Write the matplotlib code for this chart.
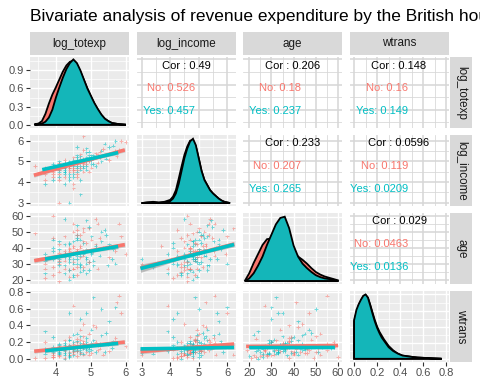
import numpy as np
import matplotlib.pyplot as plt

plt.rcParams['font.family'] = ['Liberation Sans', 'DejaVu Sans']

title = "Bivariate analysis of revenue expenditure by the British households"
variables = ['log_totexp', 'log_income', 'age', 'wtrans']
groups = ['No', 'Yes']

# household records (totexp and income rounded to tens)
totexp = [50, 60, 70, 80, 90, 100, 110, 120, 60, 70,
          80, 90, 100, 50, 130, 140, 40, 60, 70, 80,
          90, 100, 110, 150, 80, 70, 60, 90, 120, 100,
          50, 40, 110, 130, 80, 90, 70, 60, 100, 160,
          200, 180, 250, 30, 40, 60, 80, 110, 90, 70,
          300, 350, 400, 220, 300, 120, 100, 130, 170, 140,
          50, 70, 90, 60, 80, 100, 120, 140, 110, 90,
          80, 70, 60, 50, 100, 150, 130, 120, 110, 90,
          80, 70, 60, 100, 90, 80, 70, 110, 120, 100,
          190, 160, 210, 270, 230, 180, 170, 140, 150, 130,
          90, 80, 160, 310, 330, 200, 110, 120, 40, 40,
          50, 50, 60, 70, 80, 90, 100, 110, 120, 130,
          60, 70, 80, 90, 100, 50, 60, 40, 140, 150,
          250, 280, 190, 240, 170, 110, 100, 90, 130, 120]
income = [90, 100, 120, 110, 130, 140, 150, 120, 80, 90,
          130, 100, 160, 70, 180, 150, 100, 110, 140, 90,
          120, 110, 170, 200, 100, 80, 130, 150, 140, 120,
          110, 60, 100, 130, 140, 90, 110, 90, 180, 170,
          250, 210, 300, 120, 50, 20, 20, 30, 40, 50,
          250, 400, 380, 350, 400, 500, 300, 280, 220, 200,
          100, 90, 110, 100, 120, 130, 110, 160, 140, 160,
          110, 100, 120, 80, 100, 130, 150, 170, 120, 140,
          80, 130, 70, 90, 100, 120, 110, 110, 160, 150,
          180, 200, 270, 220, 170, 140, 190, 240, 110, 100,
          50, 70, 130, 190, 260, 150, 60, 90, 80, 90,
          120, 60, 140, 160, 150, 80, 70, 190, 130, 120,
          60, 70, 60, 70, 80, 130, 150, 110, 90, 160,
          160, 320, 240, 210, 120, 210, 200, 180, 230, 260]
age = [28, 31, 35, 40, 33, 38, 45, 36, 25, 29,
       42, 27, 48, 23, 39, 52, 32, 37, 34, 26,
       44, 30, 41, 47, 22, 24, 33, 36, 50, 35,
       38, 21, 29, 43, 31, 40, 27, 35, 46, 38,
       44, 55, 42, 49, 24, 30, 33, 28, 41, 36,
       38, 47, 36, 51, 30, 52, 45, 33, 58, 26,
       60, 58, 55, 19, 20, 23, 26, 31, 34, 37,
       39, 42, 44, 46, 48, 36, 30, 28, 25, 22,
       34, 32, 29, 33, 31, 38, 36, 40, 43, 39,
       35, 29, 40, 33, 48, 27, 42, 53, 45, 24,
       27, 35, 32, 41, 55, 50, 30, 44, 30, 36,
       33, 40, 42, 47, 26, 23, 51, 35, 38, 34,
       32, 38, 43, 30, 28, 45, 39, 27, 31, 37,
       34, 39, 46, 29, 41, 48, 54, 50, 57, 35]
wtrans = [.05, .10, .12, .08, .15, .20, .11, .18, .03, .07,
          .22, .09, .14, .02, .25, .30, .06, .13, .17, .05,
          .10, .21, .16, .35, .04, .00, .08, .12, .27, .09,
          .14, .01, .19, .08, .23, .06, .11, .16, .13, .40,
          .28, .10, .45, .01, .33, .04, .07, .06, .12, .09,
          .25, .55, .15, .08, .62, .05, .30, .55, .20, .12,
          .02, .14, .18, .10, .03, .24, .06, .09, .35, .04,
          .26, .05, .18, .07, .16, .11, .20, .13, .08, .29,
          .12, .22, .06, .10, .14, .17, .19, .07, .12, .09,
          .18, .22, .05, .13, .31, .16, .38, .14, .07, .11,
          .64, .55, .74, .68, .76, .60, .48, .42, .20, .12,
          .08, .26, .15, .10, .02, .09, .13, .27, .21, .17,
          .11, .01, .16, .20, .03, .12, .07, .10, .05, .19,
          .09, .21, .12, .17, .08, .23, .15, .08, .13, .19]
children = ("NYYNYNYYNY" "YNYNYNYNYN" "YYNYNYYNNY" "YNYNYNNYYN"
            "YNYNYNYYNY" "NNNYYNYYNY" "NYNNYNYYNY" "NYYNNYYNYY"
            "YNYYNNYNYN" "YYNYYNNYNY" "NYYNNYYNNY" "YYNNYYNYNY"
            "NNYYNYYNNY" "NYNYYNYNYN")

# density curves
dens_x = {
    'log_totexp': [3.4, 3.5, 3.6, 3.7, 3.8, 3.9, 4.0, 4.1, 4.2, 4.3, 4.4, 4.5, 4.6, 4.7,
                   4.8, 4.9, 5.0, 5.1, 5.2, 5.3, 5.4, 5.5, 5.6, 5.7, 5.8, 5.9, 6.0],
    'log_income': [3.0, 3.2, 3.4, 3.6, 3.8, 4.0, 4.1, 4.2, 4.3, 4.4, 4.5, 4.6, 4.7, 4.8,
                   4.9, 5.0, 5.1, 5.2, 5.3, 5.4, 5.5, 5.6, 5.7, 5.8, 5.9, 6.0, 6.1],
    'age': [18, 20, 22, 24, 26, 28, 30, 32, 34, 36, 38, 40, 42, 44, 46, 48, 50, 52,
            54, 56, 58, 60],
    'wtrans': [0.0, 0.02, 0.04, 0.06, 0.08, 0.10, 0.12, 0.14, 0.16, 0.18, 0.20, 0.22, 0.24,
               0.26, 0.28, 0.30, 0.34, 0.38, 0.42, 0.46, 0.50, 0.55, 0.60, 0.65, 0.70, 0.76],
}
dens_no = {
    'log_totexp': [0.01, 0.02, 0.06, 0.18, 0.35, 0.50, 0.62, 0.75, 0.88, 0.98, 1.04, 1.06, 1.00,
                   0.88, 0.74, 0.60, 0.47, 0.35, 0.25, 0.16, 0.10, 0.06, 0.03, 0.02, 0.01, 0.005, 0.0],
    'log_income': [0, 0.01, 0.02, 0.01, 0.02, 0.05, 0.10, 0.20, 0.38, 0.57, 0.75, 0.88, 0.97, 0.98,
                   0.88, 0.70, 0.50, 0.36, 0.28, 0.20, 0.15, 0.11, 0.07, 0.04, 0.02, 0.01, 0],
    'age': [0.0, 0.12, 0.28, 0.42, 0.56, 0.65, 0.66, 0.66, 0.62, 0.55, 0.50, 0.45, 0.38, 0.33,
            0.27, 0.20, 0.14, 0.10, 0.07, 0.05, 0.03, 0.01],
    'wtrans': [0.58, 0.72, 0.83, 0.91, 0.97, 0.99, 0.95, 0.84, 0.72, 0.60, 0.50, 0.42, 0.36,
               0.30, 0.25, 0.20, 0.13, 0.08, 0.05, 0.04, 0.03, 0.02, 0.015, 0.01, 0.005, 0.0],
}
dens_yes = {
    'log_totexp': [0.0, 0.01, 0.02, 0.05, 0.12, 0.25, 0.45, 0.62, 0.78, 0.92, 1.02, 1.08, 1.02,
                   0.90, 0.75, 0.60, 0.48, 0.36, 0.26, 0.17, 0.10, 0.06, 0.03, 0.02, 0.01, 0.005, 0.0],
    'log_income': [0, 0.01, 0.01, 0.005, 0.01, 0.03, 0.07, 0.15, 0.30, 0.50, 0.70, 0.85, 0.96, 1.0,
                   0.90, 0.70, 0.50, 0.36, 0.28, 0.20, 0.15, 0.11, 0.07, 0.04, 0.02, 0.01, 0],
    'age': [0.0, 0.04, 0.12, 0.24, 0.38, 0.56, 0.72, 0.88, 0.98, 1.0, 0.82, 0.55, 0.38, 0.27,
            0.20, 0.14, 0.09, 0.06, 0.04, 0.03, 0.02, 0.0],
    'wtrans': [0.60, 0.76, 0.85, 0.92, 0.98, 1.0, 0.95, 0.83, 0.70, 0.58, 0.48, 0.40, 0.33,
               0.28, 0.23, 0.18, 0.12, 0.08, 0.05, 0.04, 0.03, 0.02, 0.015, 0.01, 0.005, 0.0],
}

# correlations shown in the upper panels (row, col)
cor_cells = [(0, 1), (0, 2), (0, 3), (1, 2), (1, 3), (2, 3)]
cor_total = ['0.49', '0.206', '0.148', '0.233', '0.0596', '0.029']
cor_no = ['0.526', '0.18', '0.16', '0.207', '0.119', '0.0463']
cor_yes = ['0.457', '0.237', '0.149', '0.265', '0.0209', '0.0136']

# fitted lines in the lower panels: start/end x and y, plus se (start, mid, end)
fit_cells = [(1, 0), (2, 0), (2, 1), (3, 0), (3, 1), (3, 2)]
fit_x_no = [[3.37, 5.97], [3.38, 5.97], [2.96, 6.24], [3.38, 5.97], [2.96, 6.24], [18.6, 60]]
fit_y_no = [[4.33, 5.56], [31.9, 41.9], [27.3, 42.3], [0.09, 0.20], [0.085, 0.177], [0.148, 0.158]]
fit_se_no = [[0.10, 0.03, 0.10], [1.5, 0.5, 1.5], [2.5, 0.5, 1.5], [0.025, 0.008, 0.025],
             [0.03, 0.008, 0.02], [0.012, 0.005, 0.012]]
fit_x_yes = [[3.61, 5.78], [3.69, 5.78], [2.96, 6.24], [3.69, 5.78], [2.96, 6.24], [20, 58.6]]
fit_y_yes = [[4.60, 5.43], [32.9, 40.8], [27.0, 42.0], [0.095, 0.185], [0.118, 0.135], [0.133, 0.135]]
fit_se_yes = [[0.10, 0.03, 0.10], [1.5, 0.5, 1.5], [2.5, 0.5, 1.5], [0.025, 0.008, 0.025],
              [0.03, 0.008, 0.02], [0.012, 0.005, 0.012]]

limits = {'log_totexp': (3.26, 6.09), 'log_income': (2.82, 6.29),
          'age': (17.2, 61.8), 'wtrans': (-0.04, 0.82)}
major = {'log_totexp': [4, 5, 6], 'log_income': [3, 4, 5, 6],
         'age': [20, 30, 40, 50, 60], 'wtrans': [0.0, 0.2, 0.4, 0.6, 0.8]}
minor = {'log_totexp': [3.5, 4.5, 5.5], 'log_income': [3.5, 4.5, 5.5],
         'age': [25, 35, 45, 55], 'wtrans': [0.1, 0.3, 0.5, 0.7]}
fmt = {'log_totexp': '{:g}', 'log_income': '{:g}', 'age': '{:g}', 'wtrans': '{:.1f}'}
dens_ticks = [0.0, 0.3, 0.6, 0.9]

RED = '#F8766D'
TEAL = '#00BFC4'
TEAL_FILL = '#14B6B9'

data = {'log_totexp': np.log(totexp), 'log_income': np.log(income),
        'age': np.array(age, float), 'wtrans': np.array(wtrans)}
pt_colors = [TEAL if c == 'Y' else RED for c in children]

W, H = 480, 384
fig = plt.figure(figsize=(4.8, 3.84), dpi=100)


def box(x0, y0, w, h):
    return [x0 / W, 1 - (y0 + h) / H, w / W, h / H]


col_x = [30, 136.5, 243, 349.5]
col_w = 99
row_y = [57, 134.9, 212.8, 290.6]
row_h = 71.4

for i, vy in enumerate(variables):
    for j, vx in enumerate(variables):
        ax = fig.add_axes(box(col_x[j], row_y[i], col_w, row_h))
        for s in ax.spines.values():
            s.set_visible(False)
        ax.set_xlim(limits[vx])
        ax.set_xticks(major[vx])
        ax.set_xticks(minor[vx], minor=True)
        ax.set_xticklabels([fmt[vx].format(t) for t in major[vx]])

        if i == j:
            xs = np.array(dens_x[vx])
            if i == 0:
                ax.set_ylim(-0.06, 1.12)
                ax.set_yticks(dens_ticks)
                ax.set_yticks([0.15, 0.45, 0.75, 1.05], minor=True)
                ax.set_yticklabels(['{:.1f}'.format(t) for t in dens_ticks])
            else:
                ax.set_ylim(-0.05, 1.06)
                ax.set_yticks([0, 0.25, 0.5, 0.75, 1.0])
                ax.set_yticks([0.125, 0.375, 0.625, 0.875], minor=True)
            for d, fc in [(dens_no, RED), (dens_yes, TEAL_FILL)]:
                ys = np.array(d[vx])
                ax.fill(np.r_[xs[0], xs, xs[-1]], np.r_[0, ys, 0],
                        facecolor=fc, edgecolor='black', lw=1.3, zorder=3)
        else:
            ax.set_ylim(limits[vy])
            ax.set_yticks(major[vy])
            ax.set_yticks(minor[vy], minor=True)
            ax.set_yticklabels([fmt[vy].format(t) for t in major[vy]])

        if i < j:
            ax.set_facecolor('white')
            ax.grid(which='major', color='#D6D6D6', lw=1.1)
            ax.grid(which='minor', color='#D6D6D6', lw=0.55)
            k = cor_cells.index((i, j))
            ax.text(0.5, 0.88, 'Cor : ' + cor_total[k], transform=ax.transAxes,
                    ha='center', va='center', fontsize=8, color='black')
            ax.text(0.59, 0.56, 'No: ' + cor_no[k], transform=ax.transAxes,
                    ha='right', va='center', fontsize=8, color=RED, clip_on=True)
            ax.text(0.59, 0.245, 'Yes: ' + cor_yes[k], transform=ax.transAxes,
                    ha='right', va='center', fontsize=8, color=TEAL, clip_on=True)
        else:
            ax.set_facecolor('#EBEBEB')
            ax.grid(which='major', color='white', lw=1.0)
            ax.grid(which='minor', color='white', lw=0.5)

        if i > j:
            ax.scatter(data[vx], data[vy], c=pt_colors, marker='+', s=6,
                       linewidths=0.7, alpha=0.55, zorder=2)
            k = fit_cells.index((i, j))
            for fx, fy, se, c in [(fit_x_no[k], fit_y_no[k], fit_se_no[k], RED),
                                  (fit_x_yes[k], fit_y_yes[k], fit_se_yes[k], TEAL)]:
                lx = [fx[0], (fx[0] + fx[1]) / 2, fx[1]]
                ly = np.array([fy[0], (fy[0] + fy[1]) / 2, fy[1]])
                ax.fill_between(lx, ly - np.array(se), ly + np.array(se),
                                color='#999999', alpha=0.4, lw=0, zorder=3)
                ax.plot(fx, fy, color=c, lw=2.6, solid_capstyle='butt', zorder=4)

        ax.set_axisbelow(True)
        ax.tick_params(which='both', labelsize=8, labelcolor='#4D4D4D', color='#333333',
                       length=2.8, width=0.8, pad=1.5)
        ax.tick_params(which='minor', length=0)
        ax.tick_params(axis='x', bottom=(i == 3), labelbottom=(i == 3))
        ax.tick_params(axis='y', left=(j == 0), labelleft=(j == 0))

# strips
for j, v in enumerate(variables):
    s = fig.add_axes(box(col_x[j], 32, col_w, 23))
    s.set_facecolor('#D9D9D9')
    s.set_xticks([])
    s.set_yticks([])
    for sp in s.spines.values():
        sp.set_visible(False)
    s.text(0.5, 0.5, v, ha='center', va='center', fontsize=8.4, color='#1A1A1A')
for i, v in enumerate(variables):
    s = fig.add_axes(box(450, row_y[i], 22, row_h))
    s.set_facecolor('#D9D9D9')
    s.set_xticks([])
    s.set_yticks([])
    for sp in s.spines.values():
        sp.set_visible(False)
    s.text(0.5, 0.5, v, ha='center', va='center', rotation=-90, fontsize=8.4,
           color='#1A1A1A')

# the title runs past the right edge, as in the original
fig.text(30 / W, 1 - 21 / H, title, fontsize=12.5, ha='left', va='baseline')

fig.savefig('out.png', dpi=100)
